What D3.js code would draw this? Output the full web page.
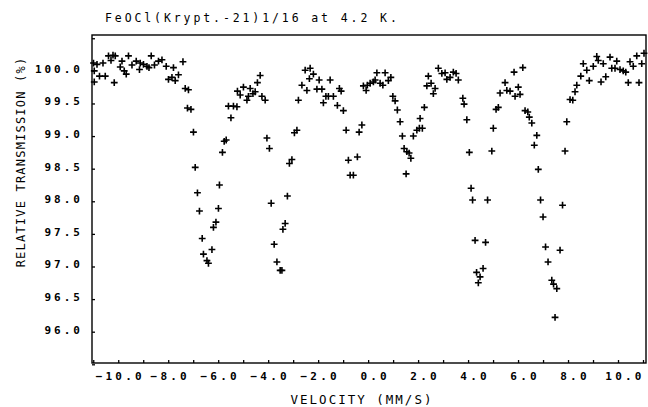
<!DOCTYPE html>
<html>
<head>
<meta charset="utf-8">
<script src="https://cdn.jsdelivr.net/npm/d3@7"></script>
<style>
  body { margin: 0; background: #fff; }
  svg { display: block; }
</style>
</head>
<body>
<svg id="chart"></svg>
<script>
// Mossbauer spectrum (velocity in mm/s, transmission in %)
const velocity = [
  -10.99, -10.96, -10.96, -10.85, -10.75, -10.61, -10.52, -10.39, -10.29, -10.21,
  -10.16, -10.12, -9.92, -9.85, -9.76, -9.68, -9.59, -9.45, -9.28, -9.15,
  -9.12, -8.99, -8.85, -8.77, -8.68, -8.55, -8.39, -8.25, -8.08, -7.99,
  -7.85, -7.79, -7.72, -7.59, -7.41, -7.32, -7.19, -7.23, -7.09, -6.99,
  -6.92, -6.83, -6.75, -6.64, -6.59, -6.45, -6.39, -6.25, -6.19, -6.09,
  -5.99, -5.95, -5.83, -5.76, -5.68, -5.59, -5.49, -5.39, -5.25, -5.23,
  -5.12, -4.99, -4.85, -4.79, -4.72, -4.61, -4.52, -4.43, -4.32, -4.25,
  -4.12, -4.05, -3.95, -3.88, -3.76, -3.65, -3.52, -3.45, -3.41, -3.32,
  -3.23, -3.15, -3.05, -2.95, -2.85, -2.79, -2.65, -2.52, -2.45, -2.35,
  -2.32, -2.19, -2.05, -1.96, -1.85, -1.79, -1.69, -1.59, -1.52, -1.39,
  -1.23, -1.15, -1.08, -0.99, -0.88, -0.79, -0.72, -0.59, -0.43, -0.36,
  -0.25, -0.19, -0.08, -0.03, 0.08, 0.21, 0.28, 0.35, 0.48, 0.59,
  0.68, 0.81, 0.91, 0.99, 1.08, 1.17, 1.28, 1.37, 1.44, 1.52,
  1.55, 1.64, 1.71, 1.81, 1.95, 2.05, 2.08, 2.17, 2.25, 2.35,
  2.41, 2.52, 2.61, 2.68, 2.81, 2.95, 3.08, 3.15, 3.28, 3.41,
  3.52, 3.61, 3.79, 3.84, 3.95, 4.05, 4.12, 4.18, 4.28, 4.34,
  4.41, 4.48, 4.60, 4.70, 4.78, 4.95, 5.01, 5.12, 5.21, 5.28,
  5.48, 5.55, 5.68, 5.84, 5.88, 6.01, 6.08, 6.19, 6.28, 6.39,
  6.45, 6.55, 6.65, 6.75, 6.81, 6.90, 7.00, 7.10, 7.20, 7.35,
  7.42, 7.48, 7.55, 7.68, 7.78, 7.88, 7.95, 8.08, 8.19, 8.28,
  8.35, 8.51, 8.61, 8.75, 8.85, 9.01, 9.15, 9.21, 9.32, 9.41,
  9.51, 9.68, 9.75, 9.88, 9.95, 10.08, 10.21, 10.31, 10.41, 10.48,
  10.61, 10.75, 10.84, 10.95, 11.04
];
const transmission = [
  100.12, 100.00, 99.83, 100.10, 99.92, 100.12, 99.92, 100.23, 100.16, 100.24,
  99.82, 100.23, 100.06, 100.15, 100.00, 99.95, 100.23, 100.09, 100.15, 100.02,
  100.12, 100.10, 100.07, 100.05, 100.23, 100.09, 100.15, 100.17, 100.07, 99.87,
  99.90, 100.05, 99.85, 99.94, 100.14, 99.73, 99.71, 99.43, 99.41, 99.06,
  98.52, 98.13, 97.85, 97.43, 97.19, 97.09, 97.05, 97.26, 97.60, 97.68,
  97.89, 98.25, 98.75, 98.92, 98.94, 99.46, 99.28, 99.46, 99.45, 99.69,
  99.63, 99.75, 99.55, 99.61, 99.73, 99.65, 99.68, 99.82, 99.93, 99.61,
  99.55, 98.97, 98.81, 97.97, 97.34, 97.07, 96.94, 96.94, 97.57, 97.66,
  98.08, 98.58, 98.64, 99.05, 99.09, 99.55, 99.78, 100.01, 99.70, 99.88,
  100.04, 99.95, 99.72, 99.86, 99.72, 99.51, 99.61, 99.61, 99.86, 99.61,
  99.47, 99.73, 99.69, 99.39, 99.09, 98.63, 98.40, 98.40, 98.68, 99.06,
  99.17, 99.77, 99.70, 99.78, 99.81, 99.83, 99.86, 99.97, 99.81, 99.78,
  99.97, 99.85, 99.90, 99.61, 99.54, 99.40, 99.22, 99.00, 98.81, 98.42,
  98.76, 98.74, 98.66, 99.00, 99.09, 99.12, 99.27, 99.12, 99.44, 99.77,
  99.92, 99.81, 99.65, 99.73, 100.04, 99.96, 99.97, 99.87, 99.90, 99.98,
  99.96, 99.86, 99.58, 99.49, 99.25, 98.75, 98.20, 98.02, 97.40, 96.91,
  96.75, 96.84, 96.97, 97.37, 98.02, 98.77, 99.12, 99.41, 99.44, 99.66,
  99.82, 99.70, 99.69, 99.98, 99.61, 99.75, 99.64, 100.05, 99.39, 99.37,
  99.29, 99.20, 98.86, 99.01, 98.49, 98.02, 97.76, 97.30, 97.07, 96.79,
  96.73, 96.22, 96.66, 97.25, 97.94, 98.77, 99.22, 99.56, 99.55, 99.68,
  99.78, 99.92, 100.11, 100.01, 99.85, 100.07, 100.22, 100.16, 99.83, 100.11,
  99.91, 100.21, 100.04, 100.04, 100.15, 100.02, 100.00, 99.98, 99.82, 100.14,
  100.07, 100.23, 99.82, 100.11, 100.27
];

const xTickLabels = [-10, -8, -6, -4, -2, 0, 2, 4, 6, 8, 10];
const yTickLabels = [96.0, 96.5, 97.0, 97.5, 98.0, 98.5, 99.0, 99.5, 100.0];
const xMinorTicks = d3.range(-11, 12, 1);
const yMinorTicks = d3.range(95.5, 100.51, 0.5);

const chartTitle = "FeOCl(Krypt.-21)1/16 at 4.2 K.";
const xTitle = "VELOCITY (MM/S)";
const yTitle = "RELATIVE TRANSMISSION (%)";

const width = 648, height = 407;
const margin = { top: 35, right: 2, bottom: 44, left: 92 };
const innerW = width - margin.left - margin.right;
const innerH = height - margin.top - margin.bottom;

const svg = d3.select('#chart')
    .attr('width', width)
    .attr('height', height);

svg.append('rect')
    .attr('width', width)
    .attr('height', height)
    .attr('fill', '#fff');

const xScale = d3.scaleLinear()
    .domain([-11.05, 11.12])
    .range([0, innerW]);
const yScale = d3.scaleLinear()
    .domain([95.52, 100.55])
    .range([innerH, 0]);

const chart = svg.append('g')
    .attr('transform', `translate(${margin.left},${margin.top})`);

// frame
chart.append('rect')
    .attr('width', innerW)
    .attr('height', innerH)
    .attr('fill', 'none')
    .attr('stroke', '#000')
    .attr('stroke-width', 1.4);

// small inward ticks
chart.append('g')
    .attr('class', 'x-ticks')
    .attr('transform', `translate(0,${innerH})`)
    .call(d3.axisBottom(xScale).tickValues(xMinorTicks).tickSize(-3).tickSizeOuter(0).tickFormat(''))
    .call(g => g.select('.domain').remove());

chart.append('g')
    .attr('class', 'y-ticks')
    .call(d3.axisLeft(yScale).tickValues(yMinorTicks).tickSize(-3).tickSizeOuter(0).tickFormat(''))
    .call(g => g.select('.domain').remove());

chart.selectAll('.x-ticks line, .y-ticks line')
    .attr('stroke', '#000')
    .attr('stroke-width', 1.3);

// tick labels
const xAxisG = chart.append('g')
    .attr('class', 'x-axis')
    .attr('transform', `translate(0,${innerH})`)
    .call(d3.axisBottom(xScale).tickValues(xTickLabels).tickSize(0).tickPadding(9).tickFormat(d3.format('.1f')));
xAxisG.select('.domain').remove();
xAxisG.selectAll('text')
    .attr('dx', d => d >= 0 ? 6.5 : 1.5)
    .style('font-family', "'DejaVu Sans Mono', monospace")
    .style('font-weight', 'bold')
    .style('font-size', '11px')
    .style('letter-spacing', '3.2px')
    .attr('fill', '#000');

const yAxisG = chart.append('g')
    .attr('class', 'y-axis')
    .call(d3.axisLeft(yScale).tickValues(yTickLabels).tickSize(0).tickPadding(9).tickFormat(d3.format('.1f')));
yAxisG.select('.domain').remove();
yAxisG.selectAll('text')
    .attr('dy', '0.13em')
    .style('font-family', "'DejaVu Sans Mono', monospace")
    .style('font-weight', 'bold')
    .style('font-size', '11px')
    .style('letter-spacing', '3px')
    .attr('fill', '#000');

// data points as plus marks
chart.append('g')
    .attr('class', 'points')
    .selectAll('path')
    .data(velocity.map((v, i) => ({ v: v, t: transmission[i] })))
    .join('path')
    .attr('transform', d => `translate(${xScale(d.v)},${yScale(d.t)})`)
    .attr('d', 'M-3.4,0H3.4M0,-3.4V3.4')
    .attr('stroke', '#000')
    .attr('stroke-width', 1.6)
    .attr('fill', 'none');

// titles
svg.append('text')
    .attr('x', 105)
    .attr('y', 21.5)
    .text(chartTitle)
    .style('font-family', "'DejaVu Sans Mono', monospace")
    .style('font-size', '11.5px')
    .style('letter-spacing', '2.9px')
    .attr('fill', '#000');

svg.append('text')
    .attr('x', 362)
    .attr('y', 404)
    .attr('text-anchor', 'middle')
    .text(xTitle)
    .style('font-family', "'DejaVu Sans Mono', monospace")
    .style('font-size', '12.5px')
    .style('letter-spacing', '2px')
    .attr('fill', '#000');

svg.append('text')
    .attr('transform', 'rotate(-90)')
    .attr('x', -162)
    .attr('y', 24.5)
    .attr('text-anchor', 'middle')
    .text(yTitle)
    .style('font-family', "'DejaVu Sans Mono', monospace")
    .style('font-size', '12px')
    .style('letter-spacing', '1.2px')
    .attr('fill', '#000');
</script>
</body>
</html>
